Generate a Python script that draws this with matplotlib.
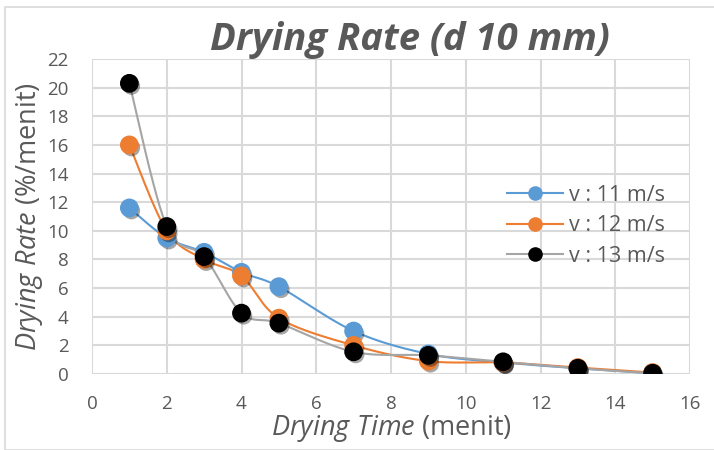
import numpy as np
import matplotlib
matplotlib.use("Agg")
import matplotlib.pyplot as plt
from matplotlib import patheffects as pe
from matplotlib.patches import Rectangle

plt.rcParams['font.family'] = ['Open Sans', 'DejaVu Sans']
plt.rcParams['mathtext.fontset'] = 'custom'
plt.rcParams['mathtext.it'] = 'Open Sans:italic'
plt.rcParams['mathtext.rm'] = 'Open Sans'

time = [1, 2, 3, 4, 5, 7, 9, 11, 13, 15]
v11 = [11.6, 9.5, 8.5, 7.1, 6.1, 3.0, 1.4, 0.8, 0.4, 0.05]
v12 = [16.0, 10.0, 8.0, 6.85, 3.9, 2.0, 0.9, 0.8, 0.45, 0.1]
v13 = [20.3, 10.3, 8.2, 4.25, 3.55, 1.55, 1.3, 0.85, 0.4, 0.05]
labels = ["v : 11 m/s", "v : 12 m/s", "v : 13 m/s"]
line_colors = ["#5b9bd5", "#ed7d31", "#a5a5a5"]
marker_colors = ["#5b9bd5", "#ed7d31", "#000000"]

def smooth(x, y, n=30):
    x = np.asarray(x, float); y = np.asarray(y, float)
    px, py = [x[0]], [y[0]]
    for i in range(len(x) - 1):
        x0, y0 = (x[i-1], y[i-1]) if i > 0 else (x[i], y[i])
        x3, y3 = (x[i+2], y[i+2]) if i + 2 < len(x) else (x[i+1], y[i+1])
        x1, y1, x2, y2 = x[i], y[i], x[i+1], y[i+1]
        c1x, c1y = x1 + (x2 - x0) / 6, y1 + (y2 - y0) / 6
        c2x, c2y = x2 - (x3 - x1) / 6, y2 - (y3 - y1) / 6
        t = np.linspace(0, 1, n)[1:]
        bx = (1-t)**3*x1 + 3*(1-t)**2*t*c1x + 3*(1-t)*t**2*c2x + t**3*x2
        by = (1-t)**3*y1 + 3*(1-t)**2*t*c1y + 3*(1-t)*t**2*c2y + t**3*y2
        px.extend(bx); py.extend(by)
    return np.array(px), np.array(py)

fig = plt.figure(figsize=(7.14, 4.5), dpi=100)
ax = fig.add_axes([92/714, 1-374/450, (690-92)/714, (374-59)/450])

shadow = [pe.SimplePatchShadow(offset=(1.5, -2), alpha=0.35, shadow_rgbFace='black'), pe.Normal()]
for ys, lc, mc, lab in zip([v11, v12, v13], line_colors, marker_colors, labels):
    sx, sy = smooth(time, ys)
    ax.plot(sx, sy, color=lc, lw=1.5, zorder=3)
    ax.plot(time, ys, 'o', color=mc, ms=12.5, mec=mc, zorder=4, path_effects=shadow)
    ax.plot([], [], color=lc, lw=1.5, marker='o', ms=9.5, mfc=mc, mec=mc, label=lab)

ax.set_xlim(0, 16)
ax.set_ylim(0, 22)
ax.set_xticks(range(0, 17, 2))
ax.set_yticks(range(0, 23, 2))
ax.grid(True, color='#d9d9d9', lw=1.5)
ax.set_axisbelow(True)
for s in ax.spines.values():
    s.set_visible(False)
ax.tick_params(length=0, labelsize=13.5, colors='#595959')
ax.tick_params(axis='y', pad=17)
ax.tick_params(axis='x', pad=15)

ax.set_xlabel(r"$\it{Drying\ Time}$ (menit)", fontsize=19.5, color='#595959', labelpad=0)
ax.set_ylabel(r"$\it{Drying\ Rate}$ (%/menit)", fontsize=19.5, color='#595959', labelpad=1)

fig.text(410/714, 1-40/450, "Drying Rate (d 10 mm)", fontsize=27.5, fontweight='bold',
         fontstyle='italic', color='#595959', ha='center', va='center')

leg = ax.legend(loc='upper left', bbox_to_anchor=((498-92)/598, 1-(176-59)/315), frameon=False,
                fontsize=15.5, labelcolor='#595959', handlelength=2.6, handletextpad=0.3,
                labelspacing=0.45, borderaxespad=0)

fig.patches.append(Rectangle((5/714, 0), 1, 1-7/450, transform=fig.transFigure,
                             fill=False, edgecolor='#d9d9d9', lw=1.2))
fig.savefig("out.png", dpi=100)
